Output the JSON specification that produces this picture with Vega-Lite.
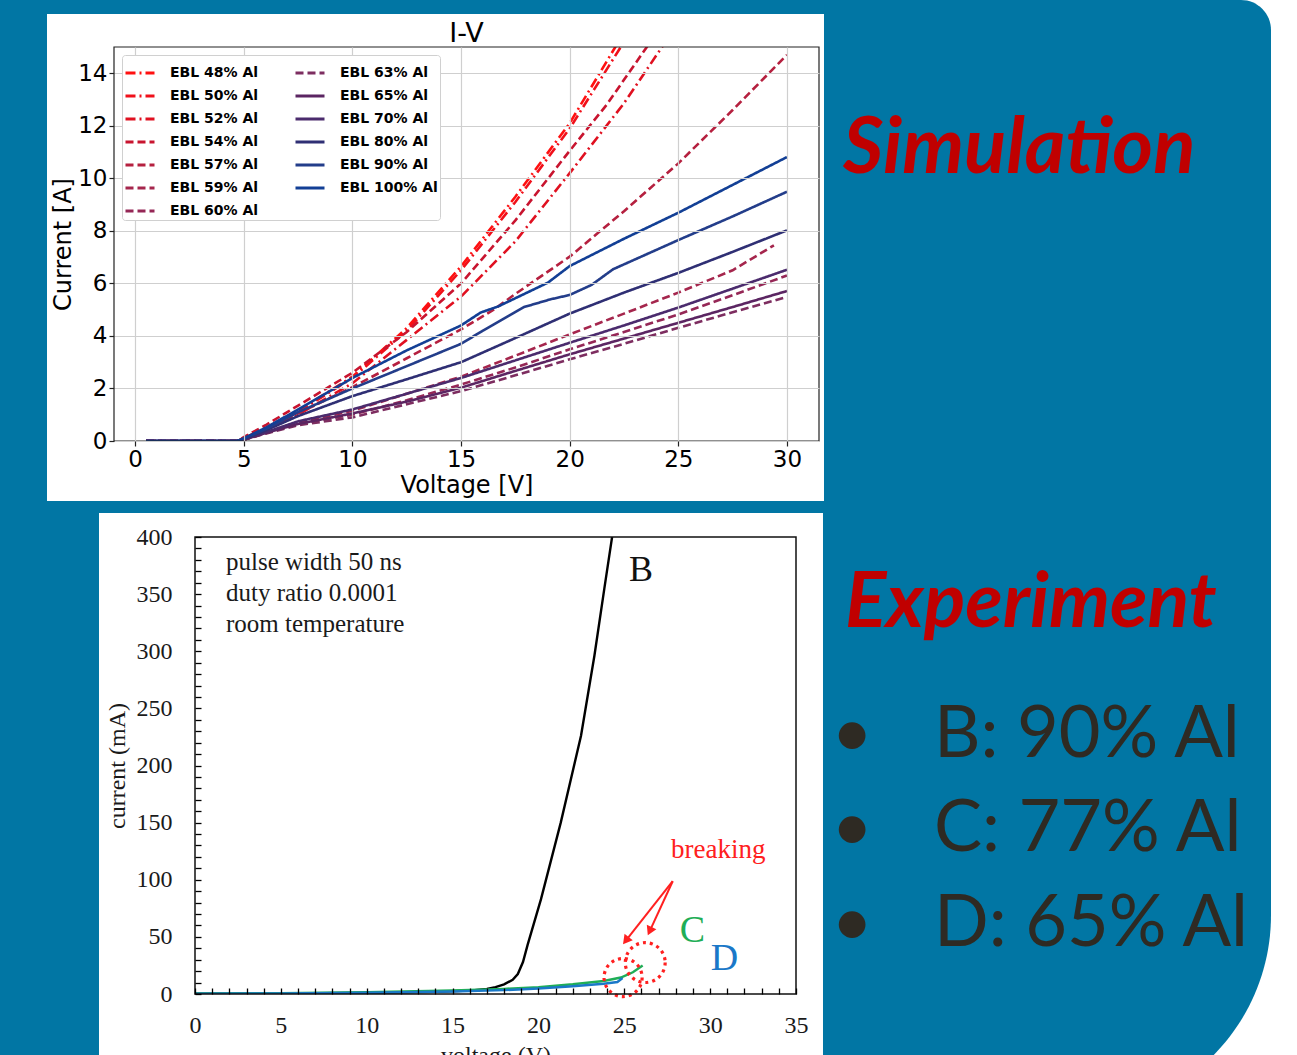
{
 "$schema": "https://vega.github.io/schema/vega-lite/v6.json",
 "background": "#0176a4",
 "padding": 0,
 "spacing": 7,
 "config": {"view": {"stroke": null}, "axis": {"labelOverlap": false, "labelFlush": false}},
 "resolve": {"scale": {"color": "independent", "strokeDash": "independent"}},
 "datasets": {
  "sim": [
   {"s":"EBL 48% Al","v":0.5,"i":0},{"s":"EBL 48% Al","v":4.7,"i":0},{"s":"EBL 48% Al","v":5,"i":0.1},{"s":"EBL 48% Al","v":6,"i":0.5},{"s":"EBL 48% Al","v":7.5,"i":1.15},{"s":"EBL 48% Al","v":10,"i":2.45},{"s":"EBL 48% Al","v":12.5,"i":4.3},{"s":"EBL 48% Al","v":15,"i":6.65},{"s":"EBL 48% Al","v":17.5,"i":9.3},{"s":"EBL 48% Al","v":20,"i":12.1},{"s":"EBL 48% Al","v":22.1,"i":15},{"s":"EBL 48% Al","v":23,"i":16.3},
   {"s":"EBL 50% Al","v":0.5,"i":0},{"s":"EBL 50% Al","v":4.7,"i":0},{"s":"EBL 50% Al","v":5,"i":0.1},{"s":"EBL 50% Al","v":6,"i":0.48},{"s":"EBL 50% Al","v":7.5,"i":1.1},{"s":"EBL 50% Al","v":10,"i":2.4},{"s":"EBL 50% Al","v":12.5,"i":4.2},{"s":"EBL 50% Al","v":15,"i":6.5},{"s":"EBL 50% Al","v":17.5,"i":9.1},{"s":"EBL 50% Al","v":20,"i":11.9},{"s":"EBL 50% Al","v":22.35,"i":15},{"s":"EBL 50% Al","v":23,"i":15.9},
   {"s":"EBL 52% Al","v":0.5,"i":0},{"s":"EBL 52% Al","v":4.7,"i":0},{"s":"EBL 52% Al","v":5,"i":0.08},{"s":"EBL 52% Al","v":6,"i":0.42},{"s":"EBL 52% Al","v":7.5,"i":1.0},{"s":"EBL 52% Al","v":10,"i":2.2},{"s":"EBL 52% Al","v":12.5,"i":3.85},{"s":"EBL 52% Al","v":15,"i":5.5},{"s":"EBL 52% Al","v":17.5,"i":7.6},{"s":"EBL 52% Al","v":20,"i":10.2},{"s":"EBL 52% Al","v":22.5,"i":12.86},{"s":"EBL 52% Al","v":24.25,"i":15},{"s":"EBL 52% Al","v":25,"i":16},
   {"s":"EBL 54% Al","v":0.5,"i":0},{"s":"EBL 54% Al","v":4.7,"i":0},{"s":"EBL 54% Al","v":5,"i":0.15},{"s":"EBL 54% Al","v":6,"i":0.6},{"s":"EBL 54% Al","v":7.5,"i":1.35},{"s":"EBL 54% Al","v":10,"i":2.6},{"s":"EBL 54% Al","v":12.5,"i":4.15},{"s":"EBL 54% Al","v":15,"i":6.0},{"s":"EBL 54% Al","v":17.5,"i":8.4},{"s":"EBL 54% Al","v":20,"i":11.05},{"s":"EBL 54% Al","v":21.7,"i":12.8},{"s":"EBL 54% Al","v":23.55,"i":15},{"s":"EBL 54% Al","v":24,"i":15.6},
   {"s":"EBL 57% Al","v":0.5,"i":0},{"s":"EBL 57% Al","v":4.7,"i":0},{"s":"EBL 57% Al","v":5,"i":0.1},{"s":"EBL 57% Al","v":6,"i":0.45},{"s":"EBL 57% Al","v":7.5,"i":1.05},{"s":"EBL 57% Al","v":10,"i":2.05},{"s":"EBL 57% Al","v":12.5,"i":3.15},{"s":"EBL 57% Al","v":15,"i":4.25},{"s":"EBL 57% Al","v":16.5,"i":5.0},{"s":"EBL 57% Al","v":17.5,"i":5.6},{"s":"EBL 57% Al","v":20,"i":7.02},{"s":"EBL 57% Al","v":22.5,"i":8.75},{"s":"EBL 57% Al","v":25,"i":10.57},{"s":"EBL 57% Al","v":27.5,"i":12.6},{"s":"EBL 57% Al","v":30,"i":14.7},
   {"s":"EBL 59% Al","v":0.5,"i":0},{"s":"EBL 59% Al","v":4.7,"i":0},{"s":"EBL 59% Al","v":5,"i":0.05},{"s":"EBL 59% Al","v":6,"i":0.32},{"s":"EBL 59% Al","v":7.5,"i":0.7},{"s":"EBL 59% Al","v":10,"i":1.15},{"s":"EBL 59% Al","v":12.5,"i":1.8},{"s":"EBL 59% Al","v":15,"i":2.45},{"s":"EBL 59% Al","v":17.5,"i":3.25},{"s":"EBL 59% Al","v":20,"i":4.06},{"s":"EBL 59% Al","v":22.5,"i":4.85},{"s":"EBL 59% Al","v":25,"i":5.65},{"s":"EBL 59% Al","v":27.5,"i":6.5},{"s":"EBL 59% Al","v":29.4,"i":7.45},
   {"s":"EBL 60% Al","v":0.5,"i":0},{"s":"EBL 60% Al","v":4.7,"i":0},{"s":"EBL 60% Al","v":5,"i":0.05},{"s":"EBL 60% Al","v":6,"i":0.3},{"s":"EBL 60% Al","v":7.5,"i":0.65},{"s":"EBL 60% Al","v":10,"i":1.0},{"s":"EBL 60% Al","v":12.5,"i":1.55},{"s":"EBL 60% Al","v":15,"i":2.15},{"s":"EBL 60% Al","v":17.5,"i":2.8},{"s":"EBL 60% Al","v":20,"i":3.49},{"s":"EBL 60% Al","v":22.5,"i":4.15},{"s":"EBL 60% Al","v":25,"i":4.82},{"s":"EBL 60% Al","v":27.5,"i":5.55},{"s":"EBL 60% Al","v":30,"i":6.3},
   {"s":"EBL 63% Al","v":0.5,"i":0},{"s":"EBL 63% Al","v":4.7,"i":0},{"s":"EBL 63% Al","v":5,"i":0.05},{"s":"EBL 63% Al","v":6,"i":0.28},{"s":"EBL 63% Al","v":7.5,"i":0.6},{"s":"EBL 63% Al","v":10,"i":0.9},{"s":"EBL 63% Al","v":12.5,"i":1.4},{"s":"EBL 63% Al","v":15,"i":1.9},{"s":"EBL 63% Al","v":17.5,"i":2.5},{"s":"EBL 63% Al","v":20,"i":3.11},{"s":"EBL 63% Al","v":22.5,"i":3.7},{"s":"EBL 63% Al","v":25,"i":4.31},{"s":"EBL 63% Al","v":27.5,"i":4.9},{"s":"EBL 63% Al","v":30,"i":5.48},
   {"s":"EBL 65% Al","v":0.5,"i":0},{"s":"EBL 65% Al","v":4.7,"i":0},{"s":"EBL 65% Al","v":5,"i":0.05},{"s":"EBL 65% Al","v":6,"i":0.3},{"s":"EBL 65% Al","v":7.5,"i":0.65},{"s":"EBL 65% Al","v":10,"i":1.05},{"s":"EBL 65% Al","v":12.5,"i":1.5},{"s":"EBL 65% Al","v":15,"i":2.03},{"s":"EBL 65% Al","v":17.5,"i":2.67},{"s":"EBL 65% Al","v":20,"i":3.3},{"s":"EBL 65% Al","v":22.5,"i":3.9},{"s":"EBL 65% Al","v":25,"i":4.5},{"s":"EBL 65% Al","v":27.5,"i":5.1},{"s":"EBL 65% Al","v":30,"i":5.71},
   {"s":"EBL 70% Al","v":0.5,"i":0},{"s":"EBL 70% Al","v":4.7,"i":0},{"s":"EBL 70% Al","v":5,"i":0.06},{"s":"EBL 70% Al","v":6,"i":0.33},{"s":"EBL 70% Al","v":7.5,"i":0.75},{"s":"EBL 70% Al","v":10,"i":1.2},{"s":"EBL 70% Al","v":12.5,"i":1.8},{"s":"EBL 70% Al","v":15,"i":2.4},{"s":"EBL 70% Al","v":17.5,"i":3.07},{"s":"EBL 70% Al","v":20,"i":3.74},{"s":"EBL 70% Al","v":22.5,"i":4.4},{"s":"EBL 70% Al","v":25,"i":5.08},{"s":"EBL 70% Al","v":27.5,"i":5.8},{"s":"EBL 70% Al","v":30,"i":6.52},
   {"s":"EBL 80% Al","v":0.5,"i":0},{"s":"EBL 80% Al","v":4.7,"i":0},{"s":"EBL 80% Al","v":5,"i":0.08},{"s":"EBL 80% Al","v":6,"i":0.4},{"s":"EBL 80% Al","v":7.5,"i":0.95},{"s":"EBL 80% Al","v":10,"i":1.71},{"s":"EBL 80% Al","v":12.5,"i":2.35},{"s":"EBL 80% Al","v":15,"i":3.0},{"s":"EBL 80% Al","v":17.5,"i":3.92},{"s":"EBL 80% Al","v":20,"i":4.85},{"s":"EBL 80% Al","v":22.5,"i":5.65},{"s":"EBL 80% Al","v":25,"i":6.4},{"s":"EBL 80% Al","v":27.5,"i":7.2},{"s":"EBL 80% Al","v":30,"i":8.02},
   {"s":"EBL 90% Al","v":0.5,"i":0},{"s":"EBL 90% Al","v":4.7,"i":0},{"s":"EBL 90% Al","v":5,"i":0.1},{"s":"EBL 90% Al","v":6,"i":0.45},{"s":"EBL 90% Al","v":7.5,"i":1.1},{"s":"EBL 90% Al","v":10,"i":2.0},{"s":"EBL 90% Al","v":12.5,"i":2.85},{"s":"EBL 90% Al","v":15,"i":3.7},{"s":"EBL 90% Al","v":16,"i":4.2},{"s":"EBL 90% Al","v":17.9,"i":5.1},{"s":"EBL 90% Al","v":19.1,"i":5.39},{"s":"EBL 90% Al","v":20,"i":5.56},{"s":"EBL 90% Al","v":21,"i":5.94},{"s":"EBL 90% Al","v":22,"i":6.54},{"s":"EBL 90% Al","v":25,"i":7.65},{"s":"EBL 90% Al","v":27.5,"i":8.55},{"s":"EBL 90% Al","v":30,"i":9.49},
   {"s":"EBL 100% Al","v":0.5,"i":0},{"s":"EBL 100% Al","v":4.7,"i":0},{"s":"EBL 100% Al","v":5,"i":0.1},{"s":"EBL 100% Al","v":6,"i":0.5},{"s":"EBL 100% Al","v":7.5,"i":1.2},{"s":"EBL 100% Al","v":10,"i":2.4},{"s":"EBL 100% Al","v":12.5,"i":3.45},{"s":"EBL 100% Al","v":15,"i":4.4},{"s":"EBL 100% Al","v":15.9,"i":4.89},{"s":"EBL 100% Al","v":16.7,"i":5.12},{"s":"EBL 100% Al","v":19,"i":6.03},{"s":"EBL 100% Al","v":20,"i":6.66},{"s":"EBL 100% Al","v":22.5,"i":7.7},{"s":"EBL 100% Al","v":25,"i":8.69},{"s":"EBL 100% Al","v":27.5,"i":9.75},{"s":"EBL 100% Al","v":30,"i":10.81}
  ],
  "exp": [
   {"c":"B","v":0,"i":0.3},{"c":"B","v":5,"i":0.5},{"c":"B","v":10,"i":1},{"c":"B","v":14,"i":2},{"c":"B","v":16,"i":3},{"c":"B","v":17,"i":4.5},{"c":"B","v":17.5,"i":6},{"c":"B","v":18,"i":8.4},{"c":"B","v":18.5,"i":12.5},{"c":"B","v":18.8,"i":17.5},{"c":"B","v":19.1,"i":28},{"c":"B","v":19.37,"i":43},{"c":"B","v":20.15,"i":83},{"c":"B","v":21.3,"i":150},{"c":"B","v":22.48,"i":226},{"c":"B","v":23.26,"i":296},{"c":"B","v":23.84,"i":355},{"c":"B","v":24.3,"i":401},{"c":"B","v":24.45,"i":416},
   {"c":"C","v":0,"i":0.5},{"c":"C","v":5,"i":0.8},{"c":"C","v":10,"i":1.5},{"c":"C","v":15,"i":3},{"c":"C","v":18,"i":4.5},{"c":"C","v":20,"i":6},{"c":"C","v":22,"i":8.5},{"c":"C","v":23.8,"i":11.4},{"c":"C","v":24.8,"i":14.4},{"c":"C","v":25.5,"i":19},{"c":"C","v":26.07,"i":25},
   {"c":"D","v":0,"i":0.2},{"c":"D","v":5,"i":0.5},{"c":"D","v":10,"i":1.1},{"c":"D","v":15,"i":2.2},{"c":"D","v":18,"i":3.4},{"c":"D","v":20,"i":4.8},{"c":"D","v":22,"i":6.8},{"c":"D","v":23.8,"i":9},{"c":"D","v":24.6,"i":10.5},{"c":"D","v":24.9,"i":14}
  ]
 },
 "hconcat": [
  {
   "spacing": 12,
   "resolve": {"scale": {"color": "independent", "strokeDash": "independent"}},
   "vconcat": [
    {
     "width": 705, "height": 394,
     "layer": [
      {"data": {"values": [{}]}, "mark": {"type": "rect", "opacity": 0},
       "encoding": {"x": {"datum": -6.176}, "x2": {"datum": 31.705}, "y": {"datum": 16.789}, "y2": {"datum": -2.284}}},
      {"data": {"values": [{}]}, "mark": {"type": "rect", "color": "white"},
       "encoding": {"x": {"datum": -4.059}, "x2": {"datum": 31.705}, "y": {"datum": 16.256}, "y2": {"datum": -2.284}}},
      {"data": {"name": "sim"}, "mark": {"type": "line", "strokeWidth": 2.6, "clip": true},
       "encoding": {
        "x": {"field": "v", "type": "quantitative", "scale": {"domain": [-0.975, 31.475], "nice": false, "zero": false},
              "axis": {"title": "Voltage [V]", "values": [0,5,10,15,20,25,30], "tickCount": 50, "format": "d", "grid": true, "gridColor": "#cfcfcf", "gridWidth": 1.2, "domain": false, "tickColor": "#222222", "tickSize": 5, "tickWidth": 1.2, "labelFont": "DejaVu Sans", "labelFontSize": 23, "labelColor": "black", "labelPadding": 2, "titleFont": "DejaVu Sans", "titleFontSize": 24, "titleFontWeight": "normal", "titleColor": "black", "titlePadding": 2, "zindex": 1}},
        "y": {"field": "i", "type": "quantitative", "scale": {"domain": [0, 15], "nice": false, "zero": false},
              "axis": {"title": "Current [A]", "values": [0,2,4,6,8,10,12,14], "tickCount": 50, "format": "d", "grid": true, "gridColor": "#cfcfcf", "gridWidth": 1.2, "domain": false, "tickColor": "#222222", "tickSize": 5, "tickWidth": 1.2, "labelFont": "DejaVu Sans", "labelFontSize": 23, "labelColor": "black", "labelPadding": 2, "titleFont": "DejaVu Sans", "titleFontSize": 24, "titleFontWeight": "normal", "titleColor": "black", "titlePadding": 2, "zindex": 1}},
        "color": {"field": "s", "type": "nominal",
                  "scale": {"domain": ["EBL 48% Al","EBL 50% Al","EBL 52% Al","EBL 54% Al","EBL 57% Al","EBL 59% Al","EBL 60% Al","EBL 63% Al","EBL 65% Al","EBL 70% Al","EBL 80% Al","EBL 90% Al","EBL 100% Al"],
                            "range": ["#ff1010","#f0101a","#e01020","#c8142f","#b5203f","#a5264d","#952756","#7d2d60","#5b2562","#4b2b6d","#2f2f74","#233d8a","#123f95"]},
                  "legend": {"title": null, "orient": "top-left", "offset": 8, "columns": 2, "symbolType": "stroke", "symbolSize": 841, "symbolStrokeWidth": 2.8, "labelFont": "DejaVu Sans", "labelFontSize": 14, "labelFontWeight": "bold", "labelColor": "black", "labelOffset": 14, "labelLimit": 200, "rowPadding": 0, "columnPadding": 30, "padding": 2, "fillColor": "white", "strokeColor": "#d0d0d0", "cornerRadius": 3, "zindex": 3}},
        "strokeDash": {"field": "s", "type": "nominal",
                  "scale": {"domain": ["EBL 48% Al","EBL 50% Al","EBL 52% Al","EBL 54% Al","EBL 57% Al","EBL 59% Al","EBL 60% Al","EBL 63% Al","EBL 65% Al","EBL 70% Al","EBL 80% Al","EBL 90% Al","EBL 100% Al"],
                            "range": [[10,4,2,4],[10,4,2,4],[10,4,2,4],[8,4],[8,4],[8,4],[8,4],[8,4],[1,0],[1,0],[1,0],[1,0],[1,0]]},
                  "legend": {"title": null, "orient": "top-left", "offset": 8, "columns": 2, "symbolType": "stroke", "symbolSize": 841, "symbolStrokeWidth": 2.8, "labelFont": "DejaVu Sans", "labelFontSize": 14, "labelFontWeight": "bold", "labelColor": "black", "labelOffset": 14, "labelLimit": 200, "rowPadding": 0, "columnPadding": 30, "padding": 2, "fillColor": "white", "strokeColor": "#d0d0d0", "cornerRadius": 3, "zindex": 3}}
       }},
      {"data": {"values": [{}]}, "mark": {"type": "text", "text": "I-V", "font": "DejaVu Sans", "fontSize": 27, "baseline": "alphabetic", "align": "center", "color": "black"},
       "encoding": {"x": {"datum": 15.25}, "y": {"datum": 15.2}}},
      {"data": {"values": [{}]}, "mark": {"type": "rect", "fillOpacity": 0, "stroke": "#222222", "strokeWidth": 1.2},
       "encoding": {"x": {"datum": -0.975}, "x2": {"datum": 31.475}, "y": {"datum": 0}, "y2": {"datum": 15}}}
     ]
    },
    {
     "width": 682, "height": 457,
     "layer": [
      {"data": {"values": [{}]}, "mark": {"type": "rect", "opacity": 0},
       "encoding": {"x": {"datum": -11.298}, "x2": {"datum": 36.572}, "y": {"datum": 421.0}, "y2": {"datum": -57.77}}},
      {"data": {"values": [{}]}, "mark": {"type": "rect", "color": "white"},
       "encoding": {"x": {"datum": -5.591}, "x2": {"datum": 36.572}, "y": {"datum": 421.0}, "y2": {"datum": -57.77}}},
      {"data": {"name": "exp"}, "mark": {"type": "line", "strokeWidth": 2.4, "clip": true},
       "encoding": {
        "x": {"field": "v", "type": "quantitative", "scale": {"domain": [0, 35], "range": [81, 682], "nice": false, "zero": false},
              "axis": {"title": "voltage (V)", "values": [0,1,2,3,4,5,6,7,8,9,10,11,12,13,14,15,16,17,18,19,20,21,22,23,24,25,26,27,28,29,30,31,32,33,34,35], "tickCount": 100, "format": "d", "labelExpr": "datum.value % 5 === 0 ? datum.label : ''", "labelOverlap": false, "labelFlush": false, "grid": false, "domain": false, "tickColor": "black", "tickSize": -6, "tickWidth": 1.3, "labelFont": "Liberation Serif", "labelFontSize": 24, "labelColor": "#1a1a1a", "labelPadding": 25, "titleFont": "Liberation Serif", "titleFontSize": 24, "titleFontWeight": "normal", "titleColor": "#1a1a1a", "titlePadding": 6, "zindex": 1}},
        "y": {"field": "i", "type": "quantitative", "scale": {"domain": [0, 400], "nice": false, "zero": false},
              "axis": {"title": "current (mA)", "offset": -81, "values": [0,10,20,30,40,50,60,70,80,90,100,110,120,130,140,150,160,170,180,190,200,210,220,230,240,250,260,270,280,290,300,310,320,330,340,350,360,370,380,390,400], "tickCount": 100, "format": "d", "labelExpr": "datum.value % 50 === 0 ? datum.label : ''", "labelOverlap": false, "labelFlush": false, "grid": false, "domain": false, "tickColor": "black", "tickSize": -6, "tickWidth": 1.3, "labelFont": "Liberation Serif", "labelFontSize": 24, "labelColor": "#1a1a1a", "labelPadding": 29, "titleFont": "Liberation Serif", "titleFontSize": 24, "titleFontWeight": "normal", "titleColor": "#1a1a1a", "titlePadding": 7, "zindex": 1}},
        "color": {"field": "c", "type": "nominal", "scale": {"domain": ["B","C","D"], "range": ["#000000","#1fae57","#1a78c8"]}, "legend": null}
       }},
      {"data": {"values": [{}]}, "mark": {"type": "text", "text": ["pulse width 50 ns", "duty ratio 0.0001", "room temperature"], "lineHeight": 31, "font": "Liberation Serif", "fontSize": 25, "baseline": "alphabetic", "align": "left", "color": "#1a1a1a"},
       "encoding": {"x": {"datum": 1.805}, "y": {"datum": 371.1}}},
      {"data": {"values": [{}]}, "mark": {"type": "text", "text": "B", "font": "Liberation Serif", "fontSize": 36, "baseline": "alphabetic", "align": "center", "color": "#111111"},
       "encoding": {"x": {"datum": 25.97}, "y": {"datum": 361.5}}},
      {"data": {"values": [{}]}, "mark": {"type": "text", "text": "breaking", "font": "Liberation Serif", "fontSize": 27, "baseline": "alphabetic", "align": "left", "color": "#ff2020"},
       "encoding": {"x": {"datum": 27.72}, "y": {"datum": 119.0}}},
      {"data": {"values": [{}]}, "mark": {"type": "text", "text": "C", "font": "Liberation Serif", "fontSize": 38, "baseline": "alphabetic", "align": "center", "color": "#1fae57"},
       "encoding": {"x": {"datum": 28.97}, "y": {"datum": 45.5}}},
      {"data": {"values": [{}]}, "mark": {"type": "text", "text": "D", "font": "Liberation Serif", "fontSize": 38, "baseline": "alphabetic", "align": "center", "color": "#1a78c8"},
       "encoding": {"x": {"datum": 30.83}, "y": {"datum": 21.0}}},
      {"data": {"values": [{}]}, "mark": {"type": "rule", "color": "#ff2020", "strokeWidth": 2},
       "encoding": {"x": {"datum": 27.82}, "y": {"datum": 98.7}, "x2": {"datum": 25.09}, "y2": {"datum": 46.7}}},
      {"data": {"values": [{}]}, "mark": {"type": "rule", "color": "#ff2020", "strokeWidth": 2},
       "encoding": {"x": {"datum": 27.82}, "y": {"datum": 98.7}, "x2": {"datum": 26.48}, "y2": {"datum": 55.0}}},
      {"data": {"values": [{}]}, "mark": {"type": "point", "shape": "triangle-up", "filled": true, "color": "#ff2020", "size": 110, "angle": 218.3, "opacity": 1},
       "encoding": {"x": {"datum": 25.09}, "y": {"datum": 46.7}}},
      {"data": {"values": [{}]}, "mark": {"type": "point", "shape": "triangle-up", "filled": true, "color": "#ff2020", "size": 110, "angle": 204.6, "opacity": 1},
       "encoding": {"x": {"datum": 26.48}, "y": {"datum": 55.0}}},
      {"data": {"values": [{}]}, "mark": {"type": "point", "shape": "circle", "filled": false, "stroke": "#ff2020", "strokeWidth": 3.2, "strokeDash": [3, 4], "size": 1452, "opacity": 1},
       "encoding": {"x": {"datum": 24.93}, "y": {"datum": 14.4}}},
      {"data": {"values": [{}]}, "mark": {"type": "point", "shape": "circle", "filled": false, "stroke": "#ff2020", "strokeWidth": 3.2, "strokeDash": [3, 4], "size": 1590, "opacity": 1},
       "encoding": {"x": {"datum": 26.22}, "y": {"datum": 27.5}}},
      {"data": {"values": [{}]}, "mark": {"type": "rect", "fillOpacity": 0, "stroke": "#111111", "strokeWidth": 1.5},
       "encoding": {"x": {"datum": 0}, "x2": {"datum": 35}, "y": {"datum": 0}, "y2": {"datum": 400}}}
     ]
    }
   ]
  },
  {
   "width": 467, "height": 1008,
   "layer": [
    {"data": {"values": [{}]}, "mark": {"type": "rect", "color": "white"},
     "encoding": {"x": {"datum": 0, "type": "quantitative", "scale": {"domain": [0, 467], "nice": false, "zero": false}, "axis": null},
                  "x2": {"datum": 467},
                  "y": {"datum": 0, "type": "quantitative", "scale": {"domain": [0, 1055], "range": [-47, 1008], "nice": false, "zero": false}, "axis": null},
                  "y2": {"datum": 1060}}},
    {"data": {"values": [{}]}, "mark": {"type": "rect", "color": "#0176a4", "cornerRadiusTopRight": 30, "cornerRadiusBottomRight": 200},
     "encoding": {"x": {"datum": 0}, "x2": {"datum": 440}, "y": {"datum": 0}, "y2": {"datum": 1115}}},
    {"data": {"values": [{}]}, "mark": {"type": "text", "text": "Simulation", "font": "Lato", "fontSize": 78, "fontStyle": "italic", "fontWeight": "bold", "color": "#c00000", "align": "left", "baseline": "alphabetic"},
     "encoding": {"x": {"datum": 12}, "y": {"datum": 173}}},
    {"data": {"values": [{}]}, "mark": {"type": "text", "text": "Experiment", "font": "Lato", "fontSize": 77, "fontStyle": "italic", "fontWeight": "bold", "color": "#c00000", "align": "left", "baseline": "alphabetic"},
     "encoding": {"x": {"datum": 14}, "y": {"datum": 627}}},
    {"data": {"values": [{}]}, "mark": {"type": "text", "text": "•", "font": "Lato", "fontSize": 72, "color": "#2e2a23", "align": "center", "baseline": "alphabetic"},
     "encoding": {"x": {"datum": 21}, "y": {"datum": 757}}},
    {"data": {"values": [{}]}, "mark": {"type": "text", "text": "•", "font": "Lato", "fontSize": 72, "color": "#2e2a23", "align": "center", "baseline": "alphabetic"},
     "encoding": {"x": {"datum": 21}, "y": {"datum": 851}}},
    {"data": {"values": [{}]}, "mark": {"type": "text", "text": "•", "font": "Lato", "fontSize": 72, "color": "#2e2a23", "align": "center", "baseline": "alphabetic"},
     "encoding": {"x": {"datum": 21}, "y": {"datum": 946}}},
    {"data": {"values": [{}]}, "mark": {"type": "text", "text": "B: 90% Al", "font": "Lato", "fontSize": 72, "color": "#2e2a23", "align": "left", "baseline": "alphabetic"},
     "encoding": {"x": {"datum": 103}, "y": {"datum": 757}}},
    {"data": {"values": [{}]}, "mark": {"type": "text", "text": "C: 77% Al", "font": "Lato", "fontSize": 72, "color": "#2e2a23", "align": "left", "baseline": "alphabetic"},
     "encoding": {"x": {"datum": 103}, "y": {"datum": 851}}},
    {"data": {"values": [{}]}, "mark": {"type": "text", "text": "D: 65% Al", "font": "Lato", "fontSize": 72, "color": "#2e2a23", "align": "left", "baseline": "alphabetic"},
     "encoding": {"x": {"datum": 103}, "y": {"datum": 946}}}
   ]
  }
 ]
}
